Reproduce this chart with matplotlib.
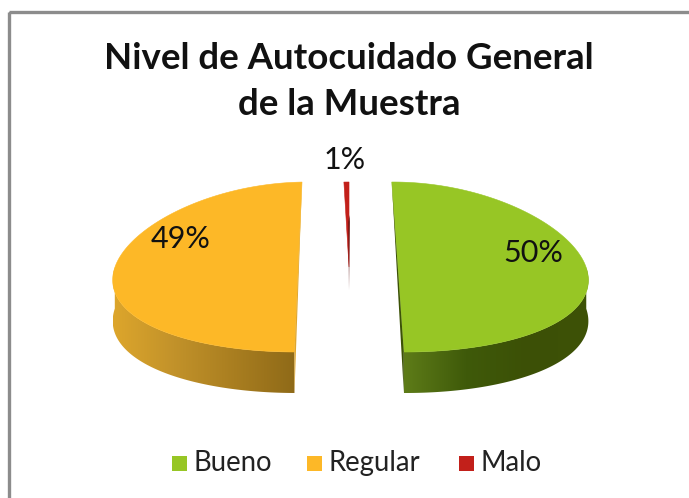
import numpy as np
from matplotlib import pyplot as plt
from matplotlib.colors import LinearSegmentedColormap
from matplotlib.patches import Polygon, Rectangle

categorias = ["Bueno", "Regular", "Malo"]
valores = [50.2, 49.3, 0.5]
rotulos = ["50%", "49%", "1%"]
titulo = ["Nivel de Autocuidado General", "de la Muestra"]

cores = {"Bueno": "#97C625", "Regular": "#FDB827", "Malo": "#C2201A"}
cores_corte = {"Bueno": "#3C5206", "Regular": "#E0A62C", "Malo": "#5A0E0C"}
grad_lado = {
    "Bueno": ["#5E7C18", "#3F5A0A", "#3C5006", "#3E5207"],
    "Regular": ["#DDA62C", "#C2922A", "#A97E20", "#8F6A18"],
}
centros = {"Bueno": 399, "Regular": 302, "Malo": 350}

# geometria em pixels da figura
x0 = 349
y0 = 267
a = 187
b = 85
prof = 41
k = 0.0015

plt.rcParams['font.family'] = ['Lato', 'DejaVu Sans']

fig = plt.figure(figsize=(6.89, 4.98), dpi=100)
ax = fig.add_axes([0, 0, 1, 1])
ax.axis('off')

ax.add_patch(Rectangle((9, 12), 700, 500, fill=False, ec="#8C8C8C", lw=2.4))


def ponto(cx, ang):
    x = cx + a * np.cos(ang)
    y = y0 - b * np.sin(ang)
    return x0 + (x - x0) * (1 + k * (y - y0)), y


angulo = np.radians(90.3)
for nome, valor in zip(categorias, valores):
    fim = angulo - np.radians(valor * 3.6)
    t = np.linspace(angulo, fim, 200)
    xs, ys = ponto(centros[nome], t)
    cor = cores[nome]

    if nome == "Malo":
        ax.add_patch(Polygon(np.r_[np.c_[xs, ys], [[x0, y0]]], closed=True, fc=cor, ec=cor, lw=0.4, zorder=2))
        ax.add_patch(Polygon([(x0 + 0.5, 215), (x0 + 0.8, 222), (x0, 290), (x0 - 0.6, 222)], closed=True,
                             fc=cores_corte[nome], ec="none", zorder=3))
    else:
        # parede lateral, so a parte da frente do arco
        frente = np.sin(t) <= 0
        xf = xs[frente]
        yf = ys[frente]
        lado = np.concatenate([np.c_[xf, yf], np.c_[xf, yf + prof][::-1]])
        pol = Polygon(lado, closed=True, fc="none", ec="none")
        ax.add_patch(pol)
        cmap = LinearSegmentedColormap.from_list(nome, grad_lado[nome])
        g = np.linspace(0, 1, 256)[None, :]
        im = ax.imshow(g, cmap=cmap, extent=[xf.min(), xf.max(), yf.max() + prof, yf.min()],
                       aspect='auto', zorder=1)
        im.set_clip_path(pol)

        # topo e face de corte
        ax.add_patch(Polygon(np.c_[xs, ys], closed=True, fc=cor, ec=cor, lw=0.4, zorder=2))
        baixo = (xs[-1], ys[-1]) if nome == "Bueno" else (xs[0], ys[0])
        topo = (xs[0], ys[0]) if nome == "Bueno" else (xs[-1], ys[-1])
        ax.add_patch(Polygon([topo, baixo, (baixo[0], baixo[1] + prof)], closed=True,
                             fc=cores_corte[nome], ec="none", zorder=3))
    angulo = fim

ax.set_xlim(0, 689)
ax.set_ylim(498, 0)

ax.text(349, 58, titulo[0], ha='center', va='center', fontsize=26.4, fontweight='bold', color="#111111")
ax.text(349, 104, titulo[1], ha='center', va='center', fontsize=26.4, fontweight='bold', color="#111111")

ax.text(533, 253, rotulos[0], ha='center', va='center', fontsize=22, color="#111111", zorder=5)
ax.text(181, 239, rotulos[1], ha='center', va='center', fontsize=22, color="#111111", zorder=5)
ax.text(345, 160, rotulos[2], ha='center', va='center', fontsize=22, color="#111111", zorder=5)

# legenda
pos_leg = [172, 307, 459]
for nome, px in zip(categorias, pos_leg):
    ax.add_patch(Rectangle((px, 456), 15, 15, fc=cores[nome], ec="none"))
    ax.text(px + 21.5, 463, nome, ha='left', va='center', fontsize=19.8, color="#222222")

fig.savefig("out.png", dpi=100)
